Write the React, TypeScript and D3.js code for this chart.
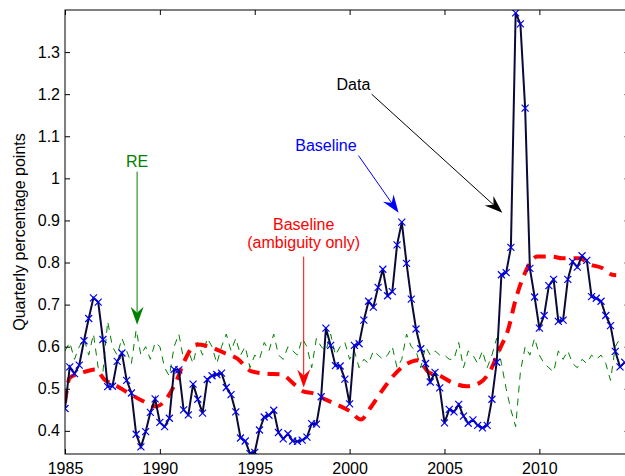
import React, { useEffect, useRef } from "react";
import * as d3 from "d3";

// Quarterly series starting 1985Q1
const startYear = 1985;

// Data (blue x markers)
const dataValues = [
  0.453, 0.552, 0.536, 0.556, 0.614, 0.667, 0.716, 0.706, 0.617, 0.505,
  0.506, 0.565, 0.585, 0.52, 0.49, 0.392, 0.362, 0.398, 0.444, 0.476,
  0.42, 0.41, 0.43, 0.546, 0.545, 0.45, 0.438, 0.511, 0.475, 0.442,
  0.522, 0.531, 0.534, 0.537, 0.503, 0.486, 0.445, 0.383, 0.376, 0.346,
  0.349, 0.402, 0.433, 0.437, 0.449, 0.396, 0.381, 0.393, 0.376, 0.375,
  0.378, 0.385, 0.417, 0.416, 0.481, 0.644, 0.603, 0.555, 0.554, 0.523,
  0.464, 0.603, 0.607, 0.663, 0.708, 0.694, 0.741, 0.784, 0.721, 0.731,
  0.842, 0.896, 0.798, 0.713, 0.642, 0.595, 0.56, 0.516, 0.539, 0.502,
  0.419, 0.451, 0.445, 0.463, 0.435, 0.418, 0.426, 0.413, 0.407, 0.413,
  0.475, 0.563, 0.771, 0.776, 0.836, 1.393, 1.367, 1.167, 0.786, 0.718,
  0.644, 0.674, 0.745, 0.76, 0.66, 0.663, 0.76, 0.802, 0.789, 0.816,
  0.805, 0.719, 0.715, 0.708, 0.674, 0.65, 0.589, 0.552, 0.563,
];

// RE (thin green dashed)
const reValues = [
  0.59, 0.61, 0.57, 0.6, 0.62, 0.58, 0.63, 0.55, 0.54, 0.66,
  0.6, 0.58, 0.62, 0.59, 0.56, 0.64, 0.58, 0.6, 0.57, 0.61,
  0.6, 0.55, 0.53, 0.6, 0.63, 0.57, 0.59, 0.56, 0.61, 0.58,
  0.62, 0.6, 0.56, 0.6, 0.63, 0.59, 0.62, 0.58, 0.6, 0.55,
  0.58, 0.57, 0.61, 0.59, 0.63, 0.58, 0.57, 0.6, 0.59, 0.58,
  0.62, 0.6, 0.55, 0.62, 0.6, 0.59, 0.63, 0.58, 0.6, 0.61,
  0.57, 0.59, 0.55, 0.57, 0.56, 0.59, 0.58, 0.57, 0.58, 0.6,
  0.55, 0.57, 0.63, 0.6, 0.59, 0.55, 0.6, 0.58, 0.59, 0.58,
  0.58, 0.57, 0.57, 0.61, 0.55, 0.59, 0.58, 0.56, 0.59, 0.55,
  0.58, 0.62, 0.56, 0.5, 0.45, 0.41, 0.54, 0.6, 0.58, 0.62,
  0.58, 0.56, 0.55, 0.54, 0.59, 0.57, 0.59, 0.56, 0.55, 0.57,
  0.56, 0.58, 0.57, 0.58, 0.56, 0.52, 0.6, 0.62,
];

// Baseline (ambiguity only), thick red dashed
const ambYears = [
  1985.0, 1985.25, 1985.9, 1986.6, 1987.1, 1987.6, 1988.3, 1989.1, 1989.8, 1990.45,
  1990.9, 1991.3, 1991.9, 1992.55, 1993.4, 1994.1, 1994.8, 1995.6, 1996.4, 1997.1,
  1997.55, 1998.1, 1998.7, 1999.3, 2000.0, 2000.6, 2001.1, 2001.75, 2002.45, 2003.05,
  2003.6, 2004.2, 2004.7, 2005.35, 2006.15, 2006.85, 2007.35, 2007.9, 2008.35, 2008.75,
  2009.2, 2009.9, 2010.7, 2011.2, 2012.1, 2012.7, 2013.3, 2013.85, 2014.05,
];
const ambValues = [
  0.467, 0.526, 0.538, 0.546, 0.521, 0.51, 0.491, 0.471, 0.458, 0.483,
  0.522, 0.566, 0.605, 0.601, 0.585, 0.571, 0.542, 0.536, 0.534, 0.51,
  0.494, 0.489, 0.475, 0.463, 0.447, 0.427, 0.455, 0.498, 0.538, 0.56,
  0.568, 0.538, 0.532, 0.516, 0.506, 0.514, 0.538, 0.593, 0.64, 0.712,
  0.771, 0.814, 0.814, 0.81, 0.81, 0.795, 0.787, 0.771, 0.77,
];

const xTicks = [1985, 1990, 1995, 2000, 2005, 2010];
const yTicks = [0.4, 0.5, 0.6, 0.7, 0.8, 0.9, 1.0, 1.1, 1.2, 1.3];

// annotation text + arrows, in data units
const notes = [
  { lines: ["RE"], color: "#008000", tx: 1988.8, ty: 1.028, x1: 1988.8, y1: 1.016, x2: 1988.8, y2: 0.652 },
  { lines: ["Baseline", "(ambiguity only)"], color: "#ff0000", tx: 1997.58, ty: 0.878, x1: 1997.58, y1: 0.814, x2: 1997.58, y2: 0.503 },
  { lines: ["Baseline"], color: "#0000ff", tx: 1998.75, ty: 1.066, x1: 2000.47, y1: 1.054, x2: 2002.58, y2: 0.918 },
  { lines: ["Data"], color: "#000000", tx: 2000.2, ty: 1.21, x1: 2001.16, y1: 1.2, x2: 2008.05, y2: 0.918 },
];

const W = 625;
const H = 476;
const margin = { top: 10, right: -4.5, bottom: 22, left: 65 };
const FONT = "'Liberation Sans', Arial, Helvetica, sans-serif";

const App = () => {
  const ref = useRef<SVGSVGElement>(null);

  useEffect(() => {
    const svg = d3.select(ref.current);
    svg.selectAll("*").remove();

    const x = d3
      .scaleLinear()
      .domain([1985, 2014.75])
      .range([margin.left, W - margin.right]);
    const y = d3
      .scaleLinear()
      .domain([0.345, 1.4])
      .range([H - margin.bottom, margin.top]);

    const [x0, x1] = x.range();
    const [yb, yt] = y.range();

    svg
      .append("defs")
      .append("clipPath")
      .attr("id", "plotclip")
      .append("rect")
      .attr("x", x0)
      .attr("y", yt)
      .attr("width", x1 - x0)
      .attr("height", yb - yt);

    const plot = svg.append("g").attr("clip-path", "url(#plotclip)");

    const qDate = (i: number) => startYear + i / 4;

    // RE line
    const reLine = d3
      .line<number>()
      .x((d, i) => x(qDate(i)))
      .y((d) => y(d));
    plot
      .append("path")
      .datum(reValues)
      .attr("fill", "none")
      .attr("stroke", "#008000")
      .attr("stroke-width", 1)
      .attr("stroke-dasharray", "7,6")
      .attr("d", reLine);

    // Baseline ambiguity only
    const ambLine = d3
      .line<number>()
      .x((d, i) => x(ambYears[i]))
      .y((d) => y(d))
      .curve(d3.curveMonotoneX);
    plot
      .append("path")
      .datum(ambValues)
      .attr("fill", "none")
      .attr("stroke", "#ff0000")
      .attr("stroke-width", 4)
      .attr("stroke-dasharray", "12,8")
      .attr("d", ambLine);

    // Data line + markers
    const dataLine = d3
      .line<number>()
      .x((d, i) => x(qDate(i)))
      .y((d) => y(d));
    plot
      .append("path")
      .datum(dataValues)
      .attr("fill", "none")
      .attr("stroke", "#0a0a3a")
      .attr("stroke-width", 2)
      .attr("d", dataLine);

    const ms = 3.5;
    plot
      .selectAll(".mk")
      .data(dataValues)
      .enter()
      .append("path")
      .attr("class", "mk")
      .attr("transform", (d, i) => `translate(${x(qDate(i))},${y(d)})`)
      .attr("d", `M${-ms},${-ms}L${ms},${ms}M${-ms},${ms}L${ms},${-ms}`)
      .attr("stroke", "#0000ff")
      .attr("stroke-width", 1.2)
      .attr("fill", "none");

    // Axes (ticks inward, box)
    const fmt = d3.format("~g");
    const gl = svg
      .append("g")
      .attr("transform", `translate(${x0},0)`)
      .call(d3.axisLeft(y).tickValues(yTicks).tickFormat((d) => fmt(d as number)).tickSize(-5).tickPadding(5));
    const gb = svg
      .append("g")
      .attr("transform", `translate(0,${yb})`)
      .call(d3.axisBottom(x).tickValues(xTicks).tickFormat(d3.format("d")).tickSize(-5).tickPadding(9));
    const gt = svg
      .append("g")
      .attr("transform", `translate(0,${yt})`)
      .call(d3.axisTop(x).tickValues(xTicks).tickFormat(() => "").tickSize(-5));
    const gr = svg
      .append("g")
      .attr("transform", `translate(${x1},0)`)
      .call(d3.axisRight(y).tickValues(yTicks).tickFormat(() => "").tickSize(-5));

    [gl, gb, gt, gr].forEach((g) => {
      g.select(".domain").remove();
      g.selectAll("line").attr("stroke", "#000");
      g.selectAll("text")
        .attr("fill", "#000")
        .style("font-family", FONT)
        .style("font-size", "16px");
    });

    svg
      .append("rect")
      .attr("x", x0)
      .attr("y", yt)
      .attr("width", x1 - x0)
      .attr("height", yb - yt)
      .attr("fill", "none")
      .attr("stroke", "#000")
      .attr("stroke-width", 1);

    // Y label
    svg
      .append("text")
      .attr("transform", `translate(25,${(yt + yb) / 2}) rotate(-90)`)
      .attr("text-anchor", "middle")
      .style("font-family", FONT)
      .style("font-size", "16px")
      .attr("fill", "#000")
      .text("Quarterly percentage points");

    // Annotations
    const ann = svg.append("g");
    notes.forEach((n) => {
      n.lines.forEach((t, k) => {
        ann
          .append("text")
          .attr("x", x(n.tx))
          .attr("y", y(n.ty) + k * 18)
          .attr("text-anchor", "middle")
          .style("font-family", FONT)
          .style("font-size", "16px")
          .attr("fill", n.color)
          .text(t);
      });
      const ax1 = x(n.x1);
      const ay1 = y(n.y1);
      const ax2 = x(n.x2);
      const ay2 = y(n.y2);
      const len = Math.hypot(ax2 - ax1, ay2 - ay1);
      const ux = (ax2 - ax1) / len;
      const uy = (ay2 - ay1) / len;
      const hl = 18;
      const hw = 6.5;
      const notch = 6;
      ann
        .append("line")
        .attr("x1", ax1)
        .attr("y1", ay1)
        .attr("x2", ax2 - ux * (hl - notch))
        .attr("y2", ay2 - uy * (hl - notch))
        .attr("stroke", n.color)
        .attr("stroke-width", 1);
      const bx = ax2 - ux * hl;
      const by = ay2 - uy * hl;
      const nx = ax2 - ux * (hl - notch);
      const ny = ay2 - uy * (hl - notch);
      ann
        .append("path")
        .attr(
          "d",
          `M${ax2},${ay2}L${bx - uy * hw},${by + ux * hw}L${nx},${ny}L${bx + uy * hw},${by - ux * hw}Z`
        )
        .attr("fill", n.color);
    });
  }, []);

  return (
    <svg
      ref={ref}
      width={W}
      height={H}
      style={{ position: "absolute", left: 0, top: 0, background: "#fff" }}
    />
  );
};

export default App;
